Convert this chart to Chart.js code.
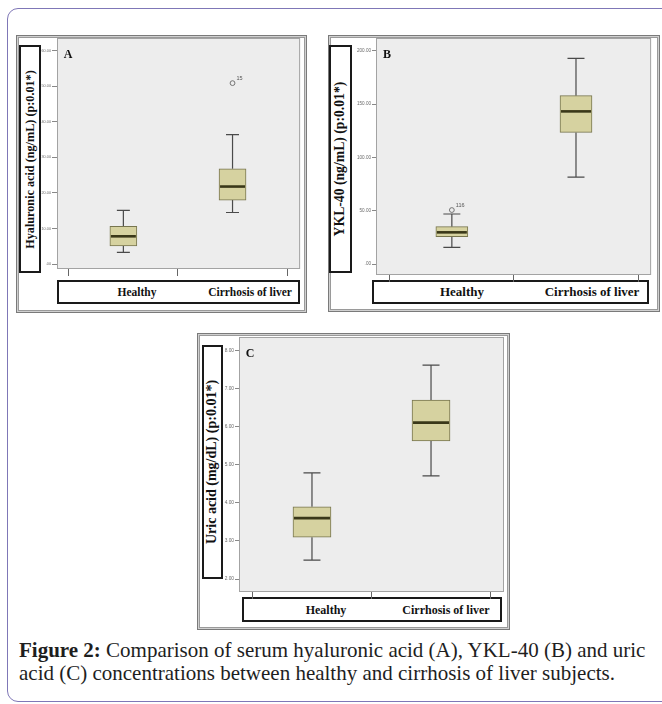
<!DOCTYPE html>
<html>
<head>
<meta charset="utf-8">
<script src="https://cdn.jsdelivr.net/npm/chart.js@4.4.1/dist/chart.umd.min.js"></script>
<style>
  html, body { margin: 0; padding: 0; background: #fff; }
  body { width: 662px; height: 704px; position: relative; overflow: hidden; font-family: "Liberation Serif", "Times New Roman", serif; }
  .page { position: absolute; left: 7px; top: 8px; width: 700px; height: 692px; border: 1.5px solid #7f77b7; border-radius: 11px; }
  .frame { position: absolute; border: 1px solid #7a7a7a; box-shadow: inset 0 0 0 1px #d0d0d0, inset 0 0 0 2px #9a9a9a; background: #fff; }
  .ybox, .xbox { position: absolute; border: 2px solid #1a1a1a; background: #fff; box-sizing: border-box; }
  .ybox { display: flex; align-items: center; justify-content: center; }
  .ybox span { white-space: nowrap; transform: rotate(-90deg); font-weight: bold; color: #111; display: block; }
  .xbox span { position: absolute; top: 50%; transform: translate(-50%, -50%); white-space: nowrap; font-weight: bold; color: #111; }
  .cw { position: absolute; }
  .caption { position: absolute; left: 19px; top: 639px; width: 643px; font-size: 21px; line-height: 23px; color: #1e1e1e; white-space: nowrap; }
</style>
</head>
<body>
<div class="page"></div>
<div id="root"></div>
<div class="caption"><b>Figure 2:</b> Comparison of serum hyaluronic acid (A), YKL-40 (B) and uric<br>acid (C) concentrations between healthy and cirrhosis of liver subjects.</div>
<script>
// ---------------- DATA ----------------
const categories = ['Healthy', 'Cirrhosis of liver'];

// Panel A: Hyaluronic acid (ng/mL)
const hyaMin    = [3.3, 14.5];
const hyaQ1     = [5.1, 18.0];
const hyaMedian = [7.8, 21.8];
const hyaQ3     = [10.6, 26.8];
const hyaMax    = [15.1, 36.4];
const hyaOutlierCat   = [1];
const hyaOutlierValue = [50.9];
const hyaOutlierLabel = ['15'];
const hyaTicks = [0, 10, 20, 30, 40, 50, 60];

// Panel B: YKL-40 (ng/mL)
const yklMin    = [15.6, 81.5];
const yklQ1     = [25.6, 123.4];
const yklMedian = [29.7, 143.1];
const yklQ3     = [35.0, 157.8];
const yklMax    = [46.9, 192.8];
const yklOutlierCat   = [0];
const yklOutlierValue = [50.6];
const yklOutlierLabel = ['116'];
const yklTicks = [0, 50, 100, 150, 200];

// Panel C: Uric acid (mg/dL)
const uricMin    = [2.5, 4.71];
const uricQ1     = [3.1, 5.63];
const uricMedian = [3.6, 6.11];
const uricQ3     = [3.9, 6.70];
const uricMax    = [4.79, 7.62];
const uricOutlierCat   = [];
const uricOutlierValue = [];
const uricOutlierLabel = [];
const uricTicks = [2, 3, 4, 5, 6, 7, 8];

const titles = {
  A: 'Hyaluronic acid (ng/mL) (p:0.01*)',
  B: 'YKL-40 (ng/mL) (p:0.01*)',
  C: 'Uric acid (mg/dL) (p:0.01*)'
};

// ---------------- LAYOUT ----------------
const panels = [
  { letter: 'A', min: hyaMin, q1: hyaQ1, med: hyaMedian, q3: hyaQ3, max: hyaMax,
    oc: hyaOutlierCat, ov: hyaOutlierValue, ol: hyaOutlierLabel, ticks: hyaTicks,
    yMin: -1.4, yMax: 63.6, xMin: -0.608, xMax: 1.619,
    frame: [16, 35, 289, 276], plot: [57, 38, 245, 231], ybox: [19, 45, 22, 228], xbox: [57, 280, 243, 24],
    yFont: 12.2, xFont: 11.5, labelX: [78, 191], boxW: 27, capW: 13, tickFont: 3.8, tickLen: 5, axisW: 17 },
  { letter: 'B', min: yklMin, q1: yklQ1, med: yklMedian, q3: yklQ3, max: yklMax,
    oc: yklOutlierCat, ov: yklOutlierValue, ol: yklOutlierLabel, ticks: yklTicks,
    yMin: -10.3, yMax: 211.9, xMin: -0.611, xMax: 1.605,
    frame: [328, 35, 330, 275], plot: [376, 38, 277, 237], ybox: [329, 45, 23, 228], xbox: [372, 280, 277, 24],
    yFont: 13.7, xFont: 13, labelX: [88, 218], boxW: 32, capW: 17, tickFont: 4.6, tickLen: 4, axisW: 23 },
  { letter: 'C', min: uricMin, q1: uricQ1, med: uricMedian, q3: uricQ3, max: uricMax,
    oc: uricOutlierCat, ov: uricOutlierValue, ol: uricOutlierLabel, ticks: uricTicks,
    yMin: 1.66, yMax: 8.36, xMin: -0.613, xMax: 1.613,
    frame: [197, 333, 311, 295], plot: [239, 337, 265, 255], ybox: [202, 345, 21, 234], xbox: [242, 597, 260, 25],
    yFont: 14, xFont: 12, labelX: [82, 202], boxW: 38, capW: 17, tickFont: 4.8, tickLen: 4, axisW: 17 }
];

const PAD_TOP = 10, PAD_RIGHT = 3, X_AX_H = 8;
const fmt = v => (v === 0 ? '.00' : v.toFixed(2));

const boxPlugin = {
  id: 'boxParts',
  beforeDraw(chart) {
    const a = chart.chartArea, c = chart.ctx;
    c.save();
    c.fillStyle = '#ededed';
    c.fillRect(a.left, a.top, a.right - a.left, a.bottom - a.top);
    c.restore();
  },
  beforeDatasetsDraw(chart) {
    const p = chart.options.plugins.boxParts;
    const x = chart.scales.x, y = chart.scales.y, c = chart.ctx;
    c.save();
    c.strokeStyle = '#4a4a4a';
    c.lineWidth = 1.2;
    for (let i = 0; i < p.min.length; i++) {
      const px = x.getPixelForValue(i);
      const yMin = y.getPixelForValue(p.min[i]), yMax = y.getPixelForValue(p.max[i]);
      const yQ1 = y.getPixelForValue(p.q1[i]), yQ3 = y.getPixelForValue(p.q3[i]);
      c.beginPath();
      c.moveTo(px, yQ1); c.lineTo(px, yMin);
      c.moveTo(px, yQ3); c.lineTo(px, yMax);
      c.moveTo(px - p.capW / 2, yMin); c.lineTo(px + p.capW / 2, yMin);
      c.moveTo(px - p.capW / 2, yMax); c.lineTo(px + p.capW / 2, yMax);
      c.stroke();
    }
    c.restore();
  },
  afterDatasetsDraw(chart) {
    const p = chart.options.plugins.boxParts;
    const x = chart.scales.x, y = chart.scales.y, c = chart.ctx, a = chart.chartArea;
    c.save();
    c.strokeStyle = '#3a3819';
    c.lineWidth = 2.6;
    for (let i = 0; i < p.med.length; i++) {
      const px = x.getPixelForValue(i), py = y.getPixelForValue(p.med[i]);
      c.beginPath();
      c.moveTo(px - p.boxW / 2 + 1, py); c.lineTo(px + p.boxW / 2 - 1, py);
      c.stroke();
    }
    // outlier labels
    c.fillStyle = '#555';
    c.font = '5.5px "Liberation Sans", Arial, sans-serif';
    c.textBaseline = 'bottom';
    for (let i = 0; i < p.oc.length; i++) {
      const px = x.getPixelForValue(p.oc[i]), py = y.getPixelForValue(p.ov[i]);
      c.fillText(p.ol[i], px + 4, py - 2);
    }
    // panel letter
    c.fillStyle = '#111';
    c.font = 'bold 12px "Liberation Serif", serif';
    c.textBaseline = 'middle';
    c.textAlign = 'center';
    c.fillText(p.letter, a.left + 11, a.top + 17);
    // plot frame
    c.strokeStyle = '#a3a3a3';
    c.lineWidth = 1;
    c.strokeRect(a.left + 0.5, a.top + 0.5, a.right - a.left - 1, a.bottom - a.top - 1);
    c.restore();
  }
};

const root = document.getElementById('root');
function place(el, r) {
  el.style.left = r[0] + 'px'; el.style.top = r[1] + 'px';
  el.style.width = r[2] + 'px'; el.style.height = r[3] + 'px';
}

panels.forEach(p => {
  const fr = document.createElement('div'); fr.className = 'frame'; place(fr, p.frame); root.appendChild(fr);
  const yb = document.createElement('div'); yb.className = 'ybox'; place(yb, p.ybox);
  const ys = document.createElement('span'); ys.textContent = titles[p.letter]; ys.style.fontSize = p.yFont + 'px';
  yb.appendChild(ys); root.appendChild(yb);
  const xb = document.createElement('div'); xb.className = 'xbox'; place(xb, p.xbox);
  categories.forEach((cat, i) => {
    const s = document.createElement('span'); s.textContent = cat; s.style.fontSize = p.xFont + 'px';
    s.style.left = p.labelX[i] + 'px'; xb.appendChild(s);
  });
  root.appendChild(xb);

  const cw = document.createElement('div'); cw.className = 'cw';
  const W = p.plot[2] + p.axisW + PAD_RIGHT, H = p.plot[3] + PAD_TOP + X_AX_H;
  place(cw, [p.plot[0] - p.axisW, p.plot[1] - PAD_TOP, W, H]);
  const cv = document.createElement('canvas'); cw.appendChild(cv); root.appendChild(cw);

  const datasets = [
    {
      type: 'bar',
      data: categories.map((_, i) => ({ x: i, y: [p.q1[i], p.q3[i]] })),
      backgroundColor: '#d6d2a0',
      borderColor: '#77754e',
      borderWidth: 1,
      borderSkipped: false,
      barThickness: p.boxW
    },
    {
      type: 'scatter',
      data: p.oc.map((c, i) => ({ x: c, y: p.ov[i] })),
      pointStyle: 'circle',
      pointRadius: 2.4,
      borderColor: '#666',
      borderWidth: 0.9,
      backgroundColor: 'rgba(0,0,0,0)'
    }
  ];

  new Chart(cv, {
    data: { datasets },
    options: {
      responsive: true,
      maintainAspectRatio: false,
      animation: false,
      devicePixelRatio: 1,
      layout: { padding: { top: PAD_TOP, right: PAD_RIGHT, bottom: 0, left: 0 } },
      plugins: {
        legend: { display: false },
        tooltip: { enabled: false },
        boxParts: { min: p.min, q1: p.q1, med: p.med, q3: p.q3, max: p.max, oc: p.oc, ov: p.ov, ol: p.ol,
                    letter: p.letter, boxW: p.boxW, capW: p.capW }
      },
      scales: {
        x: {
          type: 'linear', min: p.xMin, max: p.xMax, offset: false,
          afterBuildTicks: s => { s.ticks = categories.map((_, i) => ({ value: i })); },
          afterFit: s => { s.height = X_AX_H; },
          ticks: { display: false },
          grid: { display: true, drawOnChartArea: false, drawTicks: true, tickLength: 7, color: '#666', lineWidth: 1 },
          border: { display: false }
        },
        y: {
          type: 'linear', min: p.yMin, max: p.yMax,
          afterBuildTicks: s => { s.ticks = p.ticks.map(v => ({ value: v })); },
          afterFit: s => { s.width = p.axisW; },
          ticks: { callback: v => fmt(v), font: { size: p.tickFont, family: '"Liberation Sans", Arial, sans-serif' }, color: '#6a6a6a', padding: 1, autoSkip: false },
          grid: { display: true, drawOnChartArea: false, drawTicks: true, tickLength: p.tickLen, color: '#888', lineWidth: 1 },
          border: { display: false }
        }
      }
    },
    plugins: [boxPlugin]
  });
});
</script>
</body>
</html>
